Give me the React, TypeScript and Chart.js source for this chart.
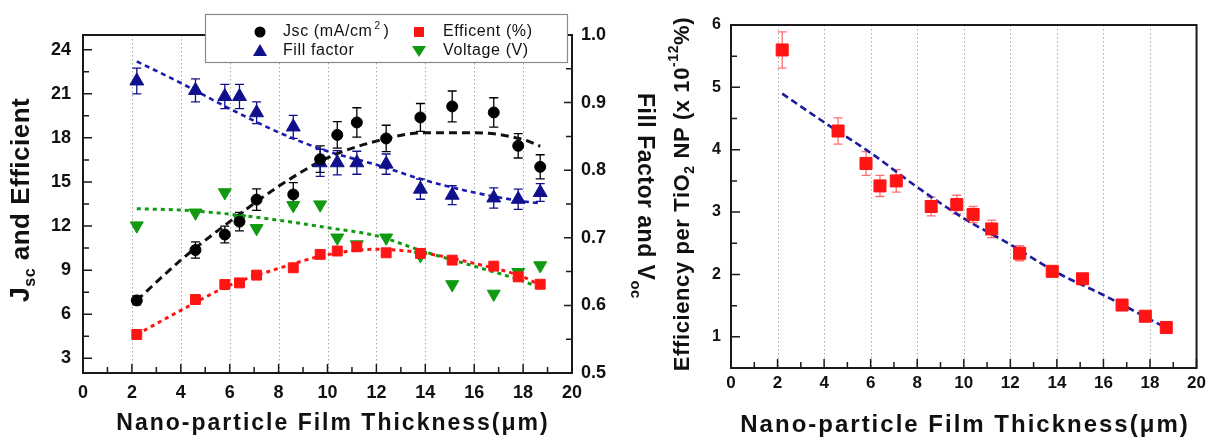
import React, { useEffect, useRef } from 'react';
import { Chart, registerables } from 'chart.js';

Chart.register(...registerables);

// ---------------- data ----------------
const thickness = [2.2, 4.6, 5.8, 6.4, 7.1, 8.6, 9.7, 10.4, 11.2, 12.4, 13.8, 15.1, 16.8, 17.8, 18.7];

const jsc = [6.94, 10.37, 11.42, 12.3, 13.8, 14.15, 16.55, 18.2, 19.05, 17.96, 19.39, 20.14, 19.73, 17.46, 16.03];
const jscErr = [0.3, 0.55, 0.57, 0.63, 0.73, 0.8, 0.9, 0.9, 1.0, 0.9, 0.95, 1.05, 1.0, 0.83, 0.82];
const efficiency = [4.62, 7.0, 8.02, 8.13, 8.66, 9.16, 10.07, 10.3, 10.59, 10.18, 10.14, 9.68, 9.27, 8.54, 8.04];
const fillFactor = [0.932, 0.918, 0.909, 0.909, 0.885, 0.864, 0.811, 0.811, 0.811, 0.809, 0.772, 0.763, 0.759, 0.757, 0.767];
const fillFactorErr = [0.019, 0.017, 0.018, 0.018, 0.016, 0.017, 0.02, 0.018, 0.017, 0.015, 0.015, 0.014, 0.015, 0.015, 0.013];
const voltage = [0.718, 0.737, 0.767, 0.728, 0.714, 0.748, 0.749, 0.7, 0.69, 0.7, 0.674, 0.631, 0.617, 0.649, 0.659];

const fitX = [2.2, 4, 6, 8, 10, 12, 14, 16, 18, 18.7];
const jscFit = [6.94, 9.68, 12.3, 14.7, 16.64, 17.78, 18.35, 18.35, 17.89, 17.43];
const efficiencyFit = [4.62, 6.26, 7.97, 9.12, 10.05, 10.42, 10.14, 9.46, 8.54, 7.97];
const fillFactorFit = [0.961, 0.929, 0.891, 0.856, 0.828, 0.808, 0.785, 0.767, 0.754, 0.751];
const voltageFit = [0.743, 0.741, 0.735, 0.726, 0.715, 0.703, 0.679, 0.658, 0.636, 0.626];

const perNP = [5.6, 4.3, 3.78, 3.42, 3.5, 3.09, 3.12, 2.96, 2.73, 2.34, 2.05, 1.93, 1.51, 1.33, 1.15];
const perNPErr = [0.29, 0.21, 0.19, 0.17, 0.18, 0.15, 0.15, 0.13, 0.14, 0.12, 0.09, 0.06, 0.05, 0.05, 0.04];
const perNPFit = [4.9, 4.44, 3.95, 3.4, 2.9, 2.48, 2.03, 1.67, 1.28, 1.14];

// ticks
const xTicks = [0, 2, 4, 6, 8, 10, 12, 14, 16, 18, 20];
const xMinor = [1, 3, 5, 7, 9, 11, 13, 15, 17, 19];
const xGrid = [2, 4, 6, 8, 10, 12, 14, 16, 18];
const leftYTicks = [3, 6, 9, 12, 15, 18, 21, 24];
const leftYMinor = [4.5, 7.5, 10.5, 13.5, 16.5, 19.5, 22.5];
const rightYTicks = [0.5, 0.6, 0.7, 0.8, 0.9, 1.0];
const rightYMinor = [0.55, 0.65, 0.75, 0.85, 0.95];
const npYTicks = [1, 2, 3, 4, 5, 6];
const npYMinor = [1.5, 2.5, 3.5, 4.5, 5.5];

// labels
const xTitle = 'Nano-particle Film Thickness(μm)';
const legendLabels = ['Jsc (mA/cm', 'Fill factor', 'Efficent (%)', 'Voltage (V)'];

const FONT = '"Liberation Sans", Arial, Helvetica, sans-serif';
const AXIS = '#1a1a1a';
const BLUE = '#10108c';
const GREEN = '#119a11';
const RED = '#ff1414';

type Part = { t: string; size: number; dy?: number; bold?: boolean };

function drawRich(ctx: CanvasRenderingContext2D, parts: Part[], x: number, y: number, rot: number, spacing = 0, color = '#111') {
  ctx.save();
  ctx.translate(x, y);
  ctx.rotate(rot);
  ctx.fillStyle = color;
  ctx.textBaseline = 'middle';
  ctx.textAlign = 'left';
  (ctx as any).letterSpacing = `${spacing}px`;
  let total = 0;
  const widths: number[] = [];
  for (const p of parts) {
    ctx.font = `${p.bold === false ? '' : 'bold '}${p.size}px ${FONT}`;
    const w = ctx.measureText(p.t).width;
    widths.push(w);
    total += w;
  }
  let cx = -total / 2;
  parts.forEach((p, i) => {
    ctx.font = `${p.bold === false ? '' : 'bold '}${p.size}px ${FONT}`;
    ctx.fillText(p.t, cx, p.dy || 0);
    cx += widths[i];
  });
  ctx.restore();
}

function pts(xs: number[], ys: number[]) {
  return xs.map((x, i) => ({ x, y: ys[i] }));
}

function drawGrid(chart: any) {
  const { ctx, chartArea: a, scales } = chart;
  ctx.save();
  ctx.strokeStyle = '#a8a8a8';
  ctx.lineWidth = 1;
  ctx.setLineDash([1.5, 2.5]);
  for (const v of xGrid) {
    const px = Math.round(scales.x.getPixelForValue(v)) + 0.5;
    ctx.beginPath();
    ctx.moveTo(px, a.top);
    ctx.lineTo(px, a.bottom);
    ctx.stroke();
  }
  ctx.restore();
}

function drawErr(chart: any, xs: number[], ys: number[], errs: number[], scaleId: string, color: string, lw = 1.3, cap = 4.5) {
  const { ctx, scales } = chart;
  const xs_ = scales.x;
  const ys_ = scales[scaleId];
  ctx.save();
  ctx.strokeStyle = color;
  ctx.lineWidth = lw;
  xs.forEach((xv, i) => {
    const px = xs_.getPixelForValue(xv);
    const top = ys_.getPixelForValue(ys[i] + errs[i]);
    const bot = ys_.getPixelForValue(ys[i] - errs[i]);
    ctx.beginPath();
    ctx.moveTo(px, top);
    ctx.lineTo(px, bot);
    ctx.moveTo(px - cap, top);
    ctx.lineTo(px + cap, top);
    ctx.moveTo(px - cap, bot);
    ctx.lineTo(px + cap, bot);
    ctx.stroke();
  });
  ctx.restore();
}

function tickMarks(ctx: CanvasRenderingContext2D, scale: any, values: number[], len: number, edge: number, dir: number, vertical: boolean) {
  ctx.beginPath();
  for (const v of values) {
    const p = scale.getPixelForValue(v);
    if (vertical) {
      ctx.moveTo(edge, p);
      ctx.lineTo(edge + dir * len, p);
    } else {
      ctx.moveTo(p, edge);
      ctx.lineTo(p, edge + dir * len);
    }
  }
  ctx.stroke();
}

const leftPlugin = {
  id: 'leftDecor',
  beforeDatasetsDraw(chart: any) {
    drawGrid(chart);
    drawErr(chart, thickness, jsc, jscErr, 'y', '#000');
    drawErr(chart, thickness, fillFactor, fillFactorErr, 'y2', BLUE);
  },
  afterDatasetsDraw(chart: any) {
    const { ctx, chartArea: a, scales } = chart;
    ctx.save();
    ctx.strokeStyle = AXIS;
    ctx.lineWidth = 2;
    ctx.strokeRect(a.left, a.top, a.right - a.left, a.bottom - a.top);
    ctx.lineWidth = 1.5;
    tickMarks(ctx, scales.y, leftYTicks, 9, a.left, 1, true);
    tickMarks(ctx, scales.y, leftYMinor, 6, a.left, 1, true);
    tickMarks(ctx, scales.y2, rightYTicks, 8, a.right, -1, true);
    tickMarks(ctx, scales.y2, rightYMinor, 6, a.right, -1, true);
    tickMarks(ctx, scales.x, xTicks, 9, a.bottom, -1, false);
    tickMarks(ctx, scales.x, xMinor, 6, a.bottom, -1, false);
    ctx.restore();
  },
  afterDraw(chart: any) {
    const { ctx } = chart;
    // legend
    ctx.save();
    ctx.fillStyle = '#fff';
    ctx.fillRect(205, 14, 363, 49);
    ctx.strokeStyle = '#8a8a8a';
    ctx.lineWidth = 1.2;
    ctx.strokeRect(205.5, 14.5, 362, 48);
    const r1 = 32, r2 = 51;
    ctx.fillStyle = '#000';
    ctx.beginPath();
    ctx.arc(260, r1, 5.5, 0, Math.PI * 2);
    ctx.fill();
    ctx.fillStyle = BLUE;
    ctx.beginPath();
    ctx.moveTo(260, r2 - 7);
    ctx.lineTo(267, r2 + 5);
    ctx.lineTo(253, r2 + 5);
    ctx.closePath();
    ctx.fill();
    ctx.fillStyle = RED;
    ctx.fillRect(414, r1 - 5, 10, 10);
    ctx.fillStyle = GREEN;
    ctx.beginPath();
    ctx.moveTo(412, r2 - 5);
    ctx.lineTo(426, r2 - 5);
    ctx.lineTo(419, r2 + 6);
    ctx.closePath();
    ctx.fill();
    ctx.fillStyle = '#111';
    ctx.textBaseline = 'middle';
    ctx.textAlign = 'left';
    (ctx as any).letterSpacing = '0.6px';
    ctx.font = `16px ${FONT}`;
    ctx.fillText(legendLabels[0], 283, r1);
    const w = ctx.measureText(legendLabels[0]).width;
    ctx.font = `10px ${FONT}`;
    ctx.fillText('2', 283 + w + 2, r1 - 6);
    ctx.font = `16px ${FONT}`;
    ctx.fillText(')', 283 + w + 11, r1);
    ctx.fillText(legendLabels[1], 283, r2);
    ctx.fillText(legendLabels[2], 443, r1);
    ctx.fillText(legendLabels[3], 443, r2);
    ctx.restore();

    drawRich(ctx, [
      { t: 'J', size: 27 },
      { t: 'sc', size: 16, dy: 9 },
      { t: ' and Efficient', size: 26 },
    ], 22, 200, -Math.PI / 2, 0.5);
    drawRich(ctx, [
      { t: 'Fill Factor and V', size: 23 },
      { t: 'oc', size: 15, dy: 9 },
    ], 644, 196, Math.PI / 2, 0.5);
    drawRich(ctx, [{ t: xTitle, size: 23 }], 333, 424, 0, 2);
  },
};

const rightPlugin = {
  id: 'rightDecor',
  beforeDatasetsDraw(chart: any) {
    drawGrid(chart);
    drawErr(chart, thickness, perNP, perNPErr, 'y', '#ff7070', 1.3, 4.5);
  },
  afterDatasetsDraw(chart: any) {
    const { ctx, chartArea: a, scales } = chart;
    ctx.save();
    ctx.strokeStyle = AXIS;
    ctx.lineWidth = 2;
    ctx.strokeRect(a.left, a.top, a.right - a.left, a.bottom - a.top);
    ctx.lineWidth = 1.5;
    tickMarks(ctx, scales.y, npYTicks, 9, a.left, 1, true);
    tickMarks(ctx, scales.y, npYMinor, 6, a.left, 1, true);
    tickMarks(ctx, scales.x, xTicks, 9, a.bottom, -1, false);
    tickMarks(ctx, scales.x, xMinor, 6, a.bottom, -1, false);
    ctx.restore();
  },
  afterDraw(chart: any) {
    const { ctx } = chart;
    drawRich(ctx, [
      { t: 'Efficiency per TiO', size: 22 },
      { t: '2', size: 14, dy: 7 },
      { t: ' NP (x 10', size: 22 },
      { t: '-12', size: 14, dy: -9 },
      { t: '%)', size: 22 },
    ], 23, 194, -Math.PI / 2, 0.6);
    drawRich(ctx, [{ t: xTitle, size: 24 }], 305, 425, 0, 2);
  },
};

function tickFont(size: number) {
  return { family: FONT, size, weight: 'bold' as const };
}

function xScale(height: number, pad: number, size: number) {
  return {
    type: 'linear' as const,
    min: 0,
    max: 20,
    afterBuildTicks: (s: any) => { s.ticks = xTicks.map((v) => ({ value: v })); },
    afterFit: (s: any) => { s.height = height; },
    grid: { display: false, drawTicks: false },
    border: { display: false },
    ticks: { font: tickFont(size), color: '#111', padding: pad, maxRotation: 0, autoSkip: false },
  };
}

export default function App() {
  const leftRef = useRef<HTMLCanvasElement | null>(null);
  const rightRef = useRef<HTMLCanvasElement | null>(null);

  useEffect(() => {
    const pointBase = { showLine: false, pointBorderWidth: 1 };
    const fitBase = { pointRadius: 0, fill: false, cubicInterpolationMode: 'monotone' as const, borderWidth: 3 };

    const left = new Chart(leftRef.current as HTMLCanvasElement, {
      type: 'line',
      data: {
        datasets: [
          { ...pointBase, label: 'Jsc', data: pts(thickness, jsc), yAxisID: 'y', pointStyle: 'circle', pointRadius: 5.5, backgroundColor: '#000', borderColor: '#000' },
          { ...pointBase, label: 'Efficent', data: pts(thickness, efficiency), yAxisID: 'y', pointStyle: 'rect', pointRadius: 7, backgroundColor: RED, borderColor: RED },
          { ...pointBase, label: 'Fill factor', data: pts(thickness, fillFactor), yAxisID: 'y2', pointStyle: 'triangle', pointRadius: 8, backgroundColor: BLUE, borderColor: BLUE },
          { ...pointBase, label: 'Voltage', data: pts(thickness, voltage), yAxisID: 'y2', pointStyle: 'triangle', pointRotation: 180, pointRadius: 7.5, backgroundColor: GREEN, borderColor: GREEN },
          { ...fitBase, label: 'Jsc fit', data: pts(fitX, jscFit), yAxisID: 'y', borderColor: '#111', borderDash: [8, 5] },
          { ...fitBase, label: 'Eff fit', data: pts(fitX, efficiencyFit), yAxisID: 'y', borderColor: RED, borderDash: [4, 4] },
          { ...fitBase, label: 'FF fit', data: pts(fitX, fillFactorFit), yAxisID: 'y2', borderColor: '#1a1ab0', borderDash: [5, 4], borderWidth: 2.6 },
          { ...fitBase, label: 'Voc fit', data: pts(fitX, voltageFit), yAxisID: 'y2', borderColor: GREEN, borderDash: [4, 4] },
        ],
      },
      options: {
        animation: false,
        responsive: false,
        events: [],
        layout: { padding: { top: 35, left: 0, right: 0, bottom: 0 } },
        plugins: { legend: { display: false }, tooltip: { enabled: false } },
        scales: {
          x: xScale(67, 9, 18),
          y: {
            type: 'linear',
            position: 'left',
            min: 2,
            max: 25,
            afterBuildTicks: (s: any) => { s.ticks = leftYTicks.map((v) => ({ value: v })); },
            afterFit: (s: any) => { s.width = 83; },
            grid: { display: false, drawTicks: false },
            border: { display: false },
            ticks: { font: tickFont(18), color: '#111', padding: 12 },
          },
          y2: {
            type: 'linear',
            position: 'right',
            min: 0.5,
            max: 1.0,
            afterBuildTicks: (s: any) => { s.ticks = rightYTicks.map((v) => ({ value: v })); },
            afterFit: (s: any) => { s.width = 88; },
            grid: { display: false, drawTicks: false },
            border: { display: false },
            ticks: { font: tickFont(18), color: '#111', padding: 9, callback: (v: any) => Number(v).toFixed(1) },
          },
        },
      },
      plugins: [leftPlugin],
    });

    const right = new Chart(rightRef.current as HTMLCanvasElement, {
      type: 'line',
      data: {
        datasets: [
          { ...pointBase, label: 'Efficiency per NP', data: pts(thickness, perNP), pointStyle: 'rect', pointRadius: 8.5, backgroundColor: RED, borderColor: RED },
          { ...fitBase, label: 'fit', data: pts(fitX, perNPFit), borderColor: '#1c1ca0', borderDash: [7, 4], borderWidth: 2.6 },
        ],
      },
      options: {
        animation: false,
        responsive: false,
        events: [],
        layout: { padding: { top: 25, left: 0, right: 12, bottom: 0 } },
        plugins: { legend: { display: false }, tooltip: { enabled: false } },
        scales: {
          x: xScale(72, 5, 17),
          y: {
            type: 'linear',
            position: 'left',
            min: 0.5,
            max: 6,
            afterBuildTicks: (s: any) => { s.ticks = npYTicks.map((v) => ({ value: v })); },
            afterFit: (s: any) => { s.width = 71; },
            grid: { display: false, drawTicks: false },
            border: { display: false },
            ticks: { font: tickFont(16), color: '#111', padding: 10 },
          },
        },
      },
      plugins: [rightPlugin],
    });

    return () => {
      left.destroy();
      right.destroy();
    };
  }, []);

  return (
    <div style={{ position: 'fixed', left: 0, top: 0, width: 1211, height: 440, background: '#fff', overflow: 'hidden' }}>
      <canvas ref={leftRef} width={660} height={440} style={{ position: 'absolute', left: 0, top: 0, width: 660, height: 440 }} />
      <canvas ref={rightRef} width={551} height={440} style={{ position: 'absolute', left: 660, top: 0, width: 551, height: 440 }} />
    </div>
  );
}
